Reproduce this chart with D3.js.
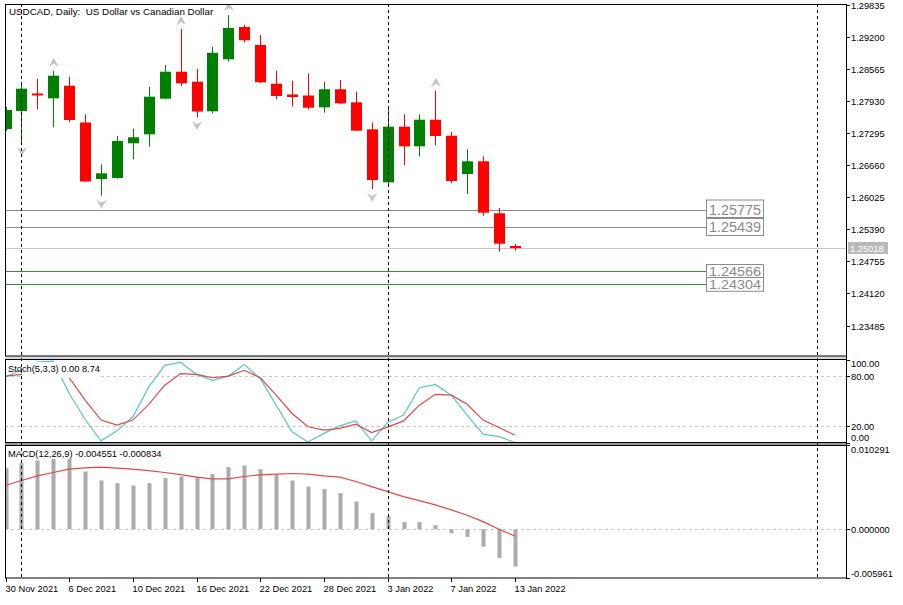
<!DOCTYPE html>
<html><head><meta charset="utf-8">
<script src="https://cdn.jsdelivr.net/npm/d3@7"></script>
<style>body{margin:0;background:#fff;} svg{display:block;font-family:"Liberation Sans",Arial,sans-serif;}</style>
</head><body><svg id="c" width="903" height="605"></svg>
<script>
// ---------- DATA ----------
const dates = ["30 Nov 2021","1 Dec 2021","2 Dec 2021","3 Dec 2021","6 Dec 2021","7 Dec 2021","8 Dec 2021","9 Dec 2021","10 Dec 2021","13 Dec 2021","14 Dec 2021","15 Dec 2021","16 Dec 2021","17 Dec 2021","20 Dec 2021","21 Dec 2021","22 Dec 2021","23 Dec 2021","24 Dec 2021","27 Dec 2021","28 Dec 2021","29 Dec 2021","30 Dec 2021","31 Dec 2021","3 Jan 2022","4 Jan 2022","5 Jan 2022","6 Jan 2022","7 Jan 2022","10 Jan 2022","11 Jan 2022","12 Jan 2022","13 Jan 2022"];
const open  = [1.27378,1.27735,1.28082,1.27986,1.28236,1.27507,1.26388,1.26407,1.27095,1.27273,1.27979,1.28513,1.28315,1.27729,1.28759,1.29399,1.29043,1.28276,1.28062,1.28042,1.27808,1.28165,1.27907,1.27372,1.26322,1.27424,1.27035,1.27562,1.27245,1.26487,1.26738,1.25708,1.25060];
const high  = [1.27814,1.28309,1.28375,1.28533,1.28414,1.27669,1.26679,1.27240,1.27384,1.28216,1.28646,1.29360,1.28567,1.29007,1.29637,1.29445,1.29241,1.28533,1.28335,1.28478,1.28315,1.28349,1.28117,1.27507,1.27834,1.27669,1.27669,1.28137,1.27319,1.26976,1.26837,1.25813,1.25100];
const low   = [1.27339,1.27095,1.27769,1.27412,1.27511,1.26328,1.26057,1.26397,1.26778,1.27028,1.27973,1.28230,1.27610,1.27689,1.28712,1.29096,1.28290,1.27967,1.27824,1.27769,1.27701,1.27868,1.27339,1.26189,1.26255,1.26659,1.26837,1.27055,1.26302,1.26090,1.25660,1.24947,1.24967];
const close = [1.27755,1.28177,1.28052,1.28434,1.27557,1.26338,1.26500,1.27140,1.27214,1.28018,1.28513,1.28284,1.27725,1.28888,1.29379,1.29136,1.28304,1.28032,1.28012,1.27800,1.28165,1.27887,1.27345,1.26368,1.27424,1.27035,1.27562,1.27240,1.26348,1.26738,1.25720,1.25106,1.25018];
const fractalUp = [3, 11, 14, 27];
const fractalDown = [1, 6, 12, 23];
const priceTicks = [1.29835,1.29200,1.28565,1.27930,1.27295,1.26660,1.26025,1.25390,1.24755,1.24120,1.23485];
const hLevels = [1.25775, 1.25439, 1.24566, 1.24304];
const currentPrice = 1.25018;

const stochMain   = [79,88,97,98,59,28,2,14,31,67,93,96.5,82,75,80,94,77,45,13,0.5,11,20,26,2,24,33,66,70,57,33,10,7,0];
const stochSignal = [80,82,86,90,78,51,27,21,27,46,69,83,82,78,80,87,78,57,35,19,15,17,22,12,18.5,26,45,58,57,46,27,18,8.74];
const stochTicks = [100, 80, 20, 0];
const stochLevels = [80, 20];

const macdHist   = [0.00747,0.00808,0.00840,0.00857,0.00857,0.00705,0.00595,0.00563,0.00534,0.00563,0.00624,0.00644,0.00632,0.00673,0.00759,0.00778,0.00734,0.00668,0.00595,0.00521,0.00490,0.00441,0.00338,0.00196,0.00159,0.00086,0.00086,0.00049,-0.00049,-0.00094,-0.00213,-0.00351,-0.004551];
const macdSignal = [0.00534,0.00595,0.00652,0.00693,0.00734,0.00750,0.00759,0.00747,0.00734,0.00717,0.00693,0.00668,0.00636,0.00616,0.00616,0.00644,0.00665,0.00673,0.00681,0.00673,0.00652,0.00636,0.00583,0.00521,0.00460,0.00399,0.00350,0.00297,0.00236,0.00171,0.00093,0.00000,-0.000834];
const macdTicks = [0.010291, 0, -0.005961];

const xLabelIdx = [0,4,8,12,16,20,24,28,32];
const separatorIdx = [1, 24, 51];

// ---------- LAYOUT ----------
const svg = d3.select("#c");
const L = 5, R = 846;
const main = {top:4, bottom:356};
const sto = {top:359, bottom:442.5};
const mac = {top:445, bottom:578};
const n = close.length;
const idx = d3.range(n);
const FS = 9.3;

const x = d3.scaleLinear().domain([0, 32]).range([5.5, 5.5 + 15.92*32]);
const y = d3.scaleLinear().domain([1.29835, 1.23485]).range([5, 325.5]);
const ys = d3.scaleLinear().domain([0, 100]).range([442.5, 359.5]);
const ym = d3.scaleLinear().domain([-0.005961, 0.010291]).range([578, 445]);

const defs = svg.append("defs");
function clip(id, p){ defs.append("clipPath").attr("id", id).append("rect")
  .attr("x", L+0.5).attr("y", p.top).attr("width", R-L-0.5).attr("height", p.bottom-p.top); }
clip("cm", main); clip("cs", sto); clip("cd", mac);

// panel separators
svg.append("rect").attr("x", L).attr("y", sto.bottom).attr("width", R-L).attr("height", mac.top-sto.bottom).attr("fill", "#9a9a9a");
svg.append("rect").attr("x", L).attr("y", main.bottom).attr("width", R-L).attr("height", sto.top-main.bottom).attr("fill", "#d8d8d8");

// ---------- MAIN PANEL ----------
const gm = svg.append("g").attr("clip-path", "url(#cm)");

const hColors = ["#8c8c8c", "#8c8c8c", "#3d8b3d", "#3d8b3d"];
const boxOff = [[-10.5, 17.5], [-9, 17], [-7, 13.5], [-7, 13.8]];
const hFont = [14.5, 14.5, 12.5, 12.5];
gm.selectAll(".hl").data(hLevels).enter().append("line")
  .attr("x1", L).attr("x2", 706).attr("y1", d => Math.round(y(d))+0.5).attr("y2", d => Math.round(y(d))+0.5)
  .attr("stroke", (d,i) => hColors[i]).attr("stroke-width", 1);
gm.append("line").attr("x1", L).attr("x2", R).attr("y1", Math.round(y(currentPrice))+0.5).attr("y2", Math.round(y(currentPrice))+0.5)
  .attr("stroke", "#c8c8c8").attr("stroke-width", 1);

// candles
const bull = "#008000", bear = "#ff0000";
const col = i => close[i] >= open[i] ? bull : bear;
gm.selectAll(".wick").data(idx).enter().append("line")
  .attr("x1", i => Math.round(x(i))+0.5).attr("x2", i => Math.round(x(i))+0.5)
  .attr("y1", i => y(high[i])).attr("y2", i => y(low[i]))
  .attr("stroke", col).attr("stroke-width", 1);
gm.selectAll(".body").data(idx).enter().append("rect")
  .attr("x", i => Math.round(x(i)) - 5).attr("width", 11)
  .attr("y", i => Math.min(y(open[i]), y(close[i])))
  .attr("height", i => Math.max(2, Math.abs(y(open[i]) - y(close[i]))))
  .attr("fill", col);

// fractal arrows
gm.selectAll(".fu").data(fractalUp).enter().append("path")
  .attr("d", i => { const cx = x(i)+0.5, t = y(high[i]) - 13;
    return `M${cx},${t} L${cx+5},${t+9} L${cx},${t+6} L${cx-5},${t+9} Z`; })
  .attr("fill", "#c4c4c4");
gm.selectAll(".fd").data(fractalDown).enter().append("path")
  .attr("d", i => { const cx = x(i)+0.5, b = y(low[i]) + 13;
    return `M${cx},${b} L${cx+5},${b-9} L${cx},${b-6} L${cx-5},${b-9} Z`; })
  .attr("fill", "#c4c4c4");

// level labels
const lb = svg.append("g");
hLevels.forEach((d, i) => {
  const yy = Math.round(y(d));
  lb.append("rect").attr("x", 706.5).attr("y", yy + boxOff[i][0] + 0.5).attr("width", 57).attr("height", boxOff[i][1])
    .attr("fill", "#fff").attr("stroke", "#8c8c8c").attr("stroke-width", 1);
  lb.append("text").attr("x", 709).attr("y", yy + hFont[i]*0.36).attr("font-size", hFont[i]).attr("fill", "#8a8a8a")
    .attr("textLength", 52).attr("lengthAdjust", "spacingAndGlyphs")
    .text(d.toFixed(5));
});

// title
svg.append("text").attr("x", 9).attr("y", 15).attr("font-size", 9.8).attr("fill", "#000")
  .attr("xml:space", "preserve").text("USDCAD, Daily:  US Dollar vs Canadian Dollar");

// ---------- STOCHASTIC ----------
const gs = svg.append("g").attr("clip-path", "url(#cs)");
gs.selectAll(".sl").data(stochLevels).enter().append("line")
  .attr("x1", L).attr("x2", R).attr("y1", d => Math.round(ys(d))+0.5).attr("y2", d => Math.round(ys(d))+0.5)
  .attr("stroke", "#c8c8c8").attr("stroke-dasharray", "3,3");
const sline = arr => d3.line().x(i => x(i)).y(i => ys(arr[i]))(idx);
gs.append("path").attr("d", sline(stochMain)).attr("fill", "none").attr("stroke", "#5cc6c6").attr("stroke-width", 1.2);
gs.append("path").attr("d", sline(stochSignal)).attr("fill", "none").attr("stroke", "#e24848").attr("stroke-width", 1.2);
svg.append("rect").attr("x", 22).attr("y", 362).attr("width", 78).attr("height", 16).attr("fill", "#fff");
svg.append("text").attr("x", 8).attr("y", 372).attr("font-size", FS).attr("fill", "#000")
  .text(`Stoch(5,3,3) ${stochMain[n-1].toFixed(2)} ${stochSignal[n-1].toFixed(2)}`);

// ---------- MACD ----------
const gd = svg.append("g").attr("clip-path", "url(#cd)");
gd.append("line").attr("x1", L).attr("x2", R).attr("y1", Math.round(ym(0))+0.5).attr("y2", Math.round(ym(0))+0.5)
  .attr("stroke", "#c8c8c8").attr("stroke-dasharray", "3,3");
gd.selectAll(".hb").data(idx).enter().append("rect")
  .attr("x", i => Math.round(x(i)) - 1.5).attr("width", 4)
  .attr("y", i => Math.min(ym(0), ym(macdHist[i])))
  .attr("height", i => Math.abs(ym(macdHist[i]) - ym(0)))
  .attr("fill", "#ababab");
gd.append("path").attr("d", d3.line().x(i => x(i)).y(i => ym(macdSignal[i]))(idx))
  .attr("fill", "none").attr("stroke", "#e24848").attr("stroke-width", 1.2);
svg.append("text").attr("x", 8).attr("y", 457).attr("font-size", FS).attr("fill", "#000")
  .text(`MACD(12,26,9) ${macdHist[n-1].toFixed(6)} ${macdSignal[n-1].toFixed(6)}`);

// ---------- SEPARATORS ----------
svg.selectAll(".sep").data(separatorIdx).enter().append("line")
  .attr("x1", i => Math.round(x(i))+0.5).attr("x2", i => Math.round(x(i))+0.5)
  .attr("y1", main.top).attr("y2", mac.bottom)
  .attr("stroke", "#000").attr("stroke-dasharray", "3,3").attr("stroke-width", 1);

// ---------- FRAMES ----------
[main, sto, mac].forEach(p => {
  svg.append("rect").attr("x", L+0.5).attr("y", p.top+0.5).attr("width", R-L).attr("height", p.bottom-p.top-0.5)
    .attr("fill", "none").attr("stroke", "#000").attr("stroke-width", 1);
});
svg.append("line").attr("x1", R+0.5).attr("x2", R+0.5).attr("y1", 4).attr("y2", 579).attr("stroke", "#000");

// ---------- RIGHT AXES ----------
const ax = svg.append("g").attr("font-size", FS).attr("fill", "#000");
function axisTicks(vals, scale, top, bottom, fmt){
  vals.forEach(v => {
    const yy = Math.round(scale(v)) + 0.5;
    ax.append("line").attr("x1", R).attr("x2", R+4).attr("y1", yy).attr("y2", yy).attr("stroke", "#000");
    const ly = Math.max(top + 5, Math.min(bottom - 4.5, yy));
    ax.append("text").attr("x", R+5).attr("y", ly + 3.3).text(fmt(v));
  });
}
priceTicks.forEach(v => {
  const yy = Math.round(y(v)) + 0.5;
  ax.append("line").attr("x1", R).attr("x2", R+4).attr("y1", yy).attr("y2", yy).attr("stroke", "#000");
  ax.append("text").attr("x", R+5).attr("y", yy + 3.3).text(v.toFixed(5));
});
axisTicks(stochTicks, ys, sto.top, sto.bottom, v => v.toFixed(2));
axisTicks(macdTicks, ym, mac.top, mac.bottom, v => v.toFixed(6));

// current price tag
const cy = Math.round(y(currentPrice));
svg.append("rect").attr("x", R+2).attr("y", cy - 6).attr("width", 40).attr("height", 12).attr("fill", "#b9b9b9");
svg.append("text").attr("x", R+4).attr("y", cy + 3.5).attr("font-size", FS).attr("fill", "#fff").text(currentPrice.toFixed(5));

// ---------- BOTTOM AXIS ----------
const bx = svg.append("g").attr("font-size", FS).attr("fill", "#000");
xLabelIdx.forEach(i => {
  const xx = Math.round(x(i)) + 0.5;
  bx.append("line").attr("x1", xx).attr("x2", xx).attr("y1", mac.bottom).attr("y2", mac.bottom + 4).attr("stroke", "#000");
  bx.append("text").attr("x", xx - 1).attr("y", 592).text(dates[i]);
});
</script></body></html>
